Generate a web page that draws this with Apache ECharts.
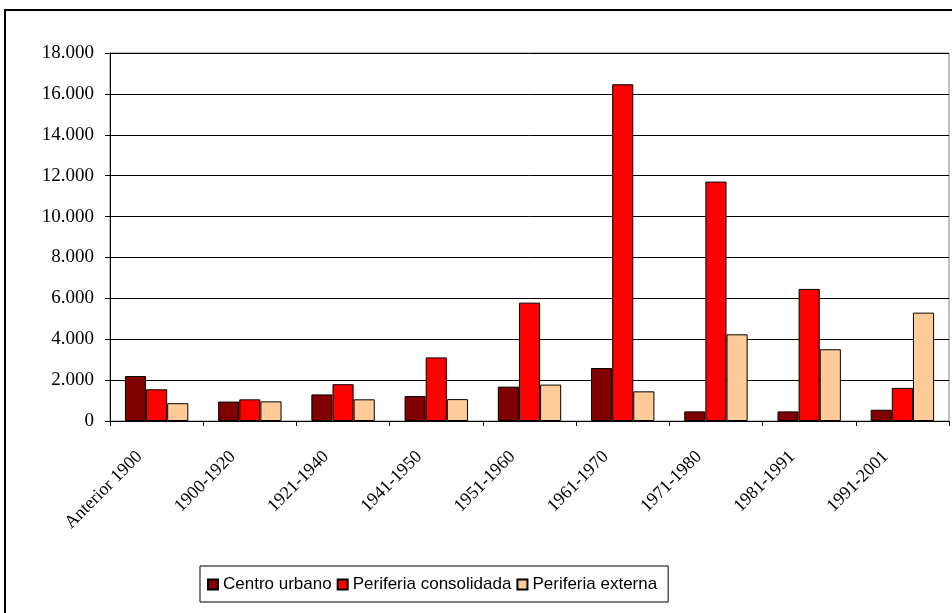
<!DOCTYPE html>
<html>
<head>
<meta charset="utf-8">
<script src="https://cdn.jsdelivr.net/npm/echarts@6/dist/echarts.min.js"></script>
<style>
  html, body { margin: 0; padding: 0; background: #fff; }
  #chart { width: 952px; height: 613px; }
</style>
</head>
<body>
<div id="chart"></div>
<script>
  // periodos de construcción
  var periodos = ['Anterior 1900', '1900-1920', '1921-1940', '1941-1950', '1951-1960',
                  '1961-1970', '1971-1980', '1981-1991', '1991-2001'];
  var centroUrbano = [2200, 950, 1300, 1220, 1680, 2590, 470, 470, 550];
  var periferiaConsolidada = [1550, 1060, 1800, 3110, 5790, 16470, 11710, 6460, 1620];
  var periferiaExterna = [870, 960, 1060, 1070, 1780, 1450, 4240, 3510, 5300];

  var sans = 'Liberation Sans, Arial, sans-serif';
  var serif = 'Liberation Serif, Times New Roman, serif';

  function barra(nombre, datos, color) {
    return {
      name: nombre,
      type: 'bar',
      data: datos,
      barGap: '0%',
      barCategoryGap: '32%',
      itemStyle: { color: color, borderColor: '#000', borderWidth: 1 }
    };
  }

  var chart = echarts.init(document.getElementById('chart'));
  chart.setOption({
    animation: false,
    backgroundColor: '#fff',
    textStyle: { fontFamily: sans },
    grid: { left: 110, right: 3, top: 53, bottom: 192, show: true, borderColor: '#808080', borderWidth: 1 },
    graphic: [{
      type: 'rect',
      shape: { x: 5, y: 10, width: 970, height: 640 },
      style: { fill: 'none', stroke: '#000', lineWidth: 2 },
      silent: true
    }],
    legend: {
      left: 200,
      top: 566,
      padding: [10, 11, 9, 7],
      itemWidth: 10,
      itemHeight: 10,
      itemGap: 5,
      borderColor: '#000',
      borderWidth: 1,
      icon: 'rect',
      textStyle: { fontSize: 17, color: '#000', fontFamily: sans },
      data: ['Centro urbano', 'Periferia consolidada', 'Periferia externa']
    },
    xAxis: {
      type: 'category',
      data: periodos,
      axisLine: { lineStyle: { color: '#000', width: 1 } },
      axisTick: { show: true, length: 5, lineStyle: { color: '#000' } },
      axisLabel: {
        rotate: 45, interval: 0, margin: 16, fontSize: 18, color: '#000',
        fontFamily: serif, padding: [0, 24, 0, 0]
      }
    },
    yAxis: {
      type: 'value',
      min: 0,
      max: 18000,
      interval: 2000,
      axisLine: { show: true, lineStyle: { color: '#000', width: 1 } },
      axisTick: { show: true, length: 5, lineStyle: { color: '#000' } },
      splitLine: { lineStyle: { color: '#000', width: 1 } },
      axisLabel: {
        fontSize: 19, color: '#000', margin: 16, fontFamily: serif,
        formatter: function (v) { return v.toString().replace(/\B(?=(\d{3})+(?!\d))/g, '.'); }
      }
    },
    series: [
      barra('Centro urbano', centroUrbano, '#800000'),
      barra('Periferia consolidada', periferiaConsolidada, '#FF0000'),
      barra('Periferia externa', periferiaExterna, '#FFCC99')
    ]
  });
</script>
</body>
</html>
